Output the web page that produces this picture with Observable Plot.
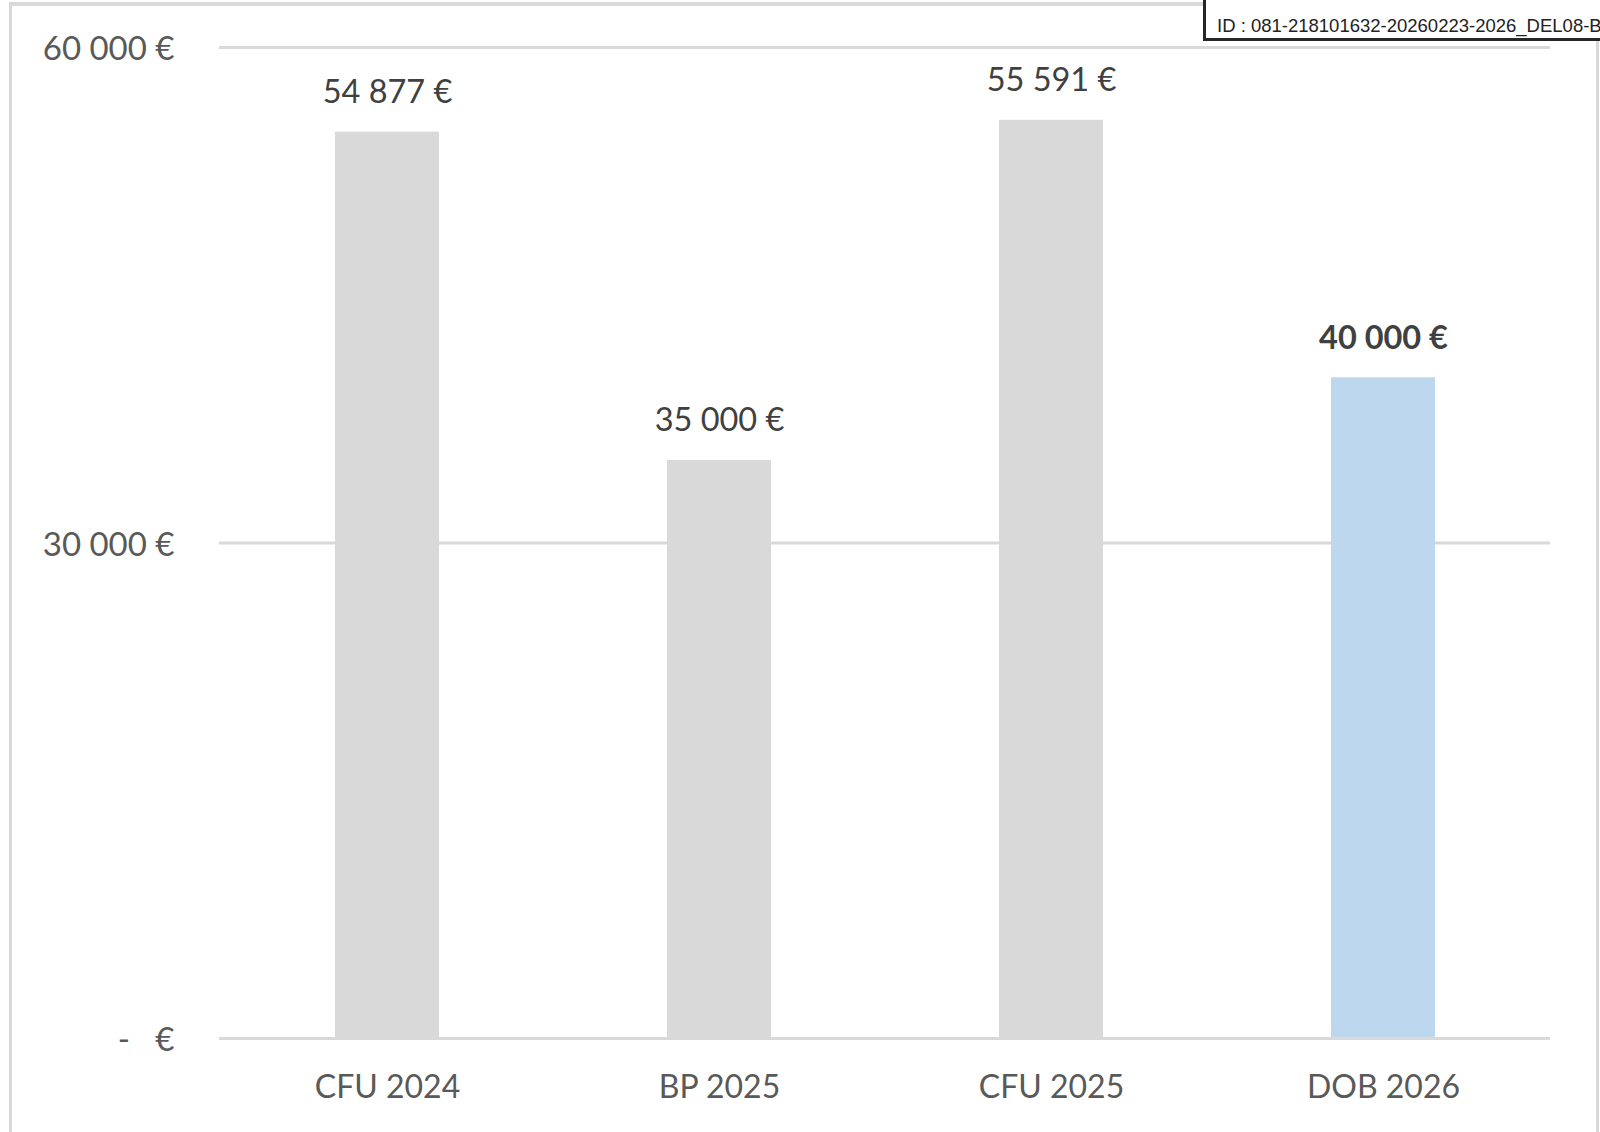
<!DOCTYPE html>
<html>
<head>
<meta charset="utf-8">
<script src="https://cdn.jsdelivr.net/npm/d3@7"></script>
<script src="https://cdn.jsdelivr.net/npm/@observablehq/plot@0.6"></script>
<style>
  html, body { margin: 0; padding: 0; background: #ffffff; overflow: hidden; width: 1600px; height: 1132px; }
  #chart { position: absolute; left: 0; top: 0; }
  #frame { position: absolute; left: 9px; top: 2px; width: 1590px; height: 1200px; box-sizing: border-box;
           border: 3px solid #d9d9d9; border-top-width: 4px; border-bottom: none; pointer-events: none; }
  #idbox { position: absolute; left: 1203px; top: -5px; width: 460px; height: 46px; box-sizing: border-box;
           border: 3px solid #262626; background: #ffffff; font-family: "Liberation Sans", Arial, sans-serif;
           font-size: 18.5px; line-height: 18px; color: #222222; padding-left: 11px; padding-top: 19px; white-space: nowrap; }
</style>
</head>
<body>
<div id="chart"></div>
<div id="frame"></div>
<div id="idbox">ID : 081-218101632-20260223-2026_DEL08-B</div>
<script>
const categories = ["CFU 2024", "BP 2025", "CFU 2025", "DOB 2026"];
const values = [54877, 35000, 55591, 40000];
const valueLabels = ["54 877 €", "35 000 €", "55 591 €", "40 000 €"];
const highlighted = [false, false, false, true];
const tickValues = [0, 30000, 60000];
const tickLabels = ["-\u00a0\u00a0\u00a0€", "30 000 €", "60 000 €"];

const data = categories.map((c, i) => ({
  category: c,
  value: values[i],
  label: valueLabels[i],
  highlight: highlighted[i]
}));

const chart = Plot.plot({
  width: 1600,
  height: 1132,
  marginLeft: 219,
  marginRight: 50,
  marginTop: 47,
  marginBottom: 94,
  style: { fontFamily: "Lato, 'Open Sans', sans-serif", fontSize: "32px", background: "transparent", color: "#595959" },
  x: { domain: categories, paddingInner: 0.6875, paddingOuter: 0.34375, label: null },
  y: { domain: [0, 60000], label: null },
  color: { domain: [false, true], range: ["#d9d9d9", "#bdd7ee"] },
  marks: [
    Plot.ruleY(tickValues, { stroke: "#d9d9d9", strokeWidth: 3 }),
    Plot.barY(data, { x: "category", y: "value", fill: d => d.highlight }),
    Plot.ruleY([0], { stroke: "#d9d9d9", strokeWidth: 3 }),
    Plot.text(data.filter(d => !d.highlight), {
      x: "category", y: "value", text: "label", lineAnchor: "bottom", dy: -29,
      fill: "#404040", fontSize: 32.5
    }),
    Plot.text(data.filter(d => d.highlight), {
      x: "category", y: "value", text: "label", lineAnchor: "bottom", dy: -29,
      fill: "#404040", fontSize: 32.5, fontWeight: "bold"
    }),
    Plot.axisX({ tickSize: 0, tickPadding: 37, fontSize: 32, color: "#595959", label: null }),
    Plot.axisY({
      ticks: tickValues,
      tickFormat: d => tickLabels[tickValues.indexOf(d)],
      tickSize: 0, tickPadding: 45, fontSize: 33, dy: 2, color: "#595959", label: null
    })
  ]
});
document.getElementById("chart").appendChild(chart);
</script>
</body>
</html>
